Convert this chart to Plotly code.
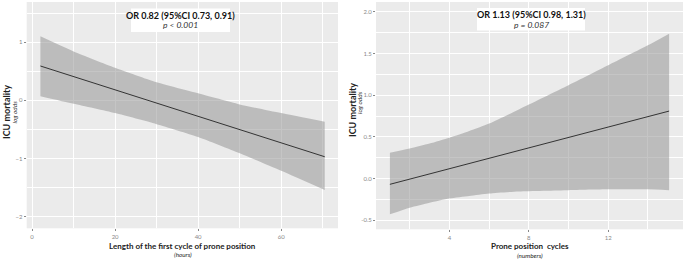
import plotly.graph_objects as go

# ---- Left panel: length of first prone cycle (hours) ----
hours_x = [2, 10, 20, 30, 40, 50, 60, 70.5]
hours_upper = [1.10, 0.84, 0.56, 0.31, 0.12, -0.07, -0.22, -0.37]
hours_lower = [0.07, -0.06, -0.22, -0.41, -0.63, -0.91, -1.21, -1.54]
hours_line_x = [2, 70.5]
hours_line_y = [0.59, -0.97]

# ---- Right panel: prone position cycles (numbers) ----
cycles_x = [1, 2, 3, 4, 5, 6, 7.5, 10, 12, 14, 15.07]
cycles_upper = [0.31, 0.36, 0.42, 0.49, 0.57, 0.66, 0.83, 1.12, 1.36, 1.60, 1.74]
cycles_lower = [-0.43, -0.35, -0.29, -0.24, -0.21, -0.18, -0.155, -0.14, -0.13, -0.13, -0.14]
cycles_line_x = [1, 15.07]
cycles_line_y = [-0.07, 0.81]

left_label = ["OR 0.82 (95%CI 0.73, 0.91)", "p &lt; 0.001"]
right_label = ["OR 1.13 (95%CI 0.98, 1.31)", "p = 0.087"]

BAND = "rgba(150,150,150,0.55)"
FONT = "Lato"
W, H = 685, 260

fig = go.Figure()

def band(xs, lo, hi, xa, ya):
    fig.add_trace(go.Scatter(
        x=xs, y=lo, mode="lines", line=dict(width=0, shape="spline", smoothing=0.6),
        hoverinfo="skip", showlegend=False, xaxis=xa, yaxis=ya))
    fig.add_trace(go.Scatter(
        x=xs, y=hi, mode="lines", fill="tonexty", fillcolor=BAND,
        line=dict(width=0, shape="spline", smoothing=0.6),
        hoverinfo="skip", showlegend=False, xaxis=xa, yaxis=ya))

band(hours_x, hours_lower, hours_upper, "x", "y")
fig.add_trace(go.Scatter(
    x=hours_line_x, y=hours_line_y, mode="lines",
    line=dict(color="#333333", width=1), showlegend=False, xaxis="x", yaxis="y"))

band(cycles_x, cycles_lower, cycles_upper, "x2", "y2")
fig.add_trace(go.Scatter(
    x=cycles_line_x, y=cycles_line_y, mode="lines",
    line=dict(color="#333333", width=1), showlegend=False, xaxis="x2", yaxis="y2"))

def px_x(p):
    return p / W

def px_y(p):
    return 1 - p / H

axis_common = dict(
    showgrid=True, gridcolor="white", gridwidth=1, zeroline=False,
    ticks="outside", ticklen=2, tickwidth=0.6, tickcolor="#888888",
    tickfont=dict(family=FONT, size=6, color="#8a8a8a"),
    showline=False, fixedrange=True,
)

fig.update_layout(
    width=W, height=H,
    margin=dict(l=0, r=0, t=0, b=0),
    paper_bgcolor="white",
    plot_bgcolor="#EBEBEB",
    xaxis=dict(domain=[px_x(26.7), px_x(338)], range=[-1.3, 73.7],
               tickvals=[0, 20, 40, 60], anchor="y",
               minor=dict(showgrid=True, gridcolor="white", gridwidth=0.5,
                          tickvals=[10, 30, 50, 70], ticks=""),
               **axis_common),
    yaxis=dict(domain=[px_y(228.3), px_y(2)], range=[-2.2, 1.69],
               tickvals=[-2, -1, 0, 1], anchor="x",
               minor=dict(showgrid=True, gridcolor="white", gridwidth=0.5,
                          tickvals=[-1.5, -0.5, 0.5, 1.5], ticks=""),
               **axis_common),
    xaxis2=dict(domain=[px_x(376), px_x(683)], range=[0.3, 15.77],
                tickvals=[4, 8, 12], anchor="y2",
                minor=dict(showgrid=True, gridcolor="white", gridwidth=0.5,
                           tickvals=[2, 6, 10, 14], ticks=""),
                **axis_common),
    yaxis2=dict(domain=[px_y(229.3), px_y(2)], range=[-0.61, 2.12],
                tickvals=[-0.5, 0, 0.5, 1.0, 1.5, 2.0],
                ticktext=["-0.5", "0.0", "0.5", "1.0", "1.5", "2.0"],
                anchor="x2",
                minor=dict(showgrid=True, gridcolor="white", gridwidth=0.5,
                           tickvals=[-0.25, 0.25, 0.75, 1.25, 1.75], ticks=""),
                **axis_common),
)

ann = []
def text(x, y, t, size, bold=False, italic=False, angle=0, color="#222222"):
    s = t
    if bold:
        s = "<b>" + s + "</b>"
    if italic:
        s = "<i>" + s + "</i>"
    ann.append(dict(x=px_x(x), y=px_y(y), xref="paper", yref="paper", text=s,
                    showarrow=False, textangle=angle, xanchor="center", yanchor="middle",
                    borderpad=0,
                    font=dict(family=FONT, size=size, color=color)))

# label boxes
shapes = []
for (x0, y0, x1, y1) in [(131, 8.5, 230, 32), (477, 8, 585, 30.5)]:
    shapes.append(dict(type="rect", xref="paper", yref="paper",
                       x0=px_x(x0), x1=px_x(x1), y0=px_y(y1), y1=px_y(y0),
                       fillcolor="white", line=dict(width=0), layer="above"))
fig.update_layout(shapes=shapes)

text(180.5, 15, left_label[0], 9, bold=True, color="#111111")
text(180.5, 25, left_label[1], 8.5, italic=True, color="#333333")
text(531, 14.5, right_label[0], 9, bold=True, color="#111111")
text(531, 24.5, right_label[1], 8.5, italic=True, color="#333333")

# axis titles
text(182.5, 246, "Length of the first cycle of prone position", 8, bold=True)
text(182.5, 254.5, "(hours)", 6.3, italic=True)
text(529.5, 246, "Prone position  cycles", 8, bold=True)
text(529.5, 255.5, "(numbers)", 6.3, italic=True)
text(6, 112, "ICU mortality", 9, bold=True, angle=-90)
text(13.5, 112, "log odds", 6.5, italic=True, angle=-90)
text(352, 110, "ICU mortality", 9, bold=True, angle=-90)
text(360, 103, "log odds", 6.5, italic=True, angle=-90)

fig.update_layout(annotations=ann)

fig.write_html("out.html",
               config={"displayModeBar": False},
               post_script="document.body.style.margin='0';document.body.style.padding='0';")
